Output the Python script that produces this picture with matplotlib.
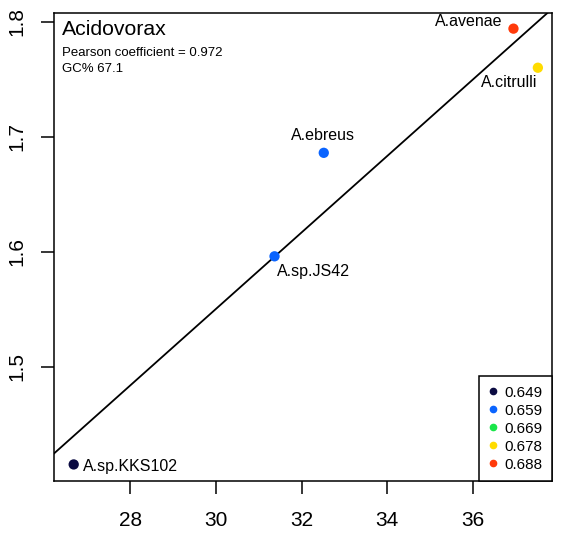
import numpy as np
import matplotlib
matplotlib.use("Agg")
import matplotlib.pyplot as plt
from matplotlib.lines import Line2D

plt.rcParams['font.family'] = ['Liberation Sans', 'DejaVu Sans']

# species data: GC3-like x, ratio y, colour class
names = ["A.sp.KKS102", "A.sp.JS42", "A.ebreus", "A.avenae", "A.citrulli"]
x = [26.68, 31.37, 32.52, 36.95, 37.52]
y = [1.415, 1.596, 1.686, 1.794, 1.760]
cls = [0, 1, 1, 4, 3]

leg_labels = ["0.649", "0.659", "0.669", "0.678", "0.688"]
leg_colors = ["#0b0b42", "#0a64ff", "#19e64a", "#ffdc00", "#ff3a0a"]

# label placement (ha, dx pt, dy pt)
lab_pos = {
    "A.sp.KKS102": ("left", 6.5, -1.5),
    "A.sp.JS42": ("left", 2.0, -11.0),
    "A.ebreus": ("center", -0.7, 12.5),
    "A.avenae": ("right", -8.0, 4.8),
    "A.citrulli": ("right", -0.5, -10.8),
}

fig = plt.figure(figsize=(5.67, 5.33), dpi=100)
ax = fig.add_axes([54/567, 1-481/533, (552-54)/567, (481-13)/533])

slope, icpt = np.polyfit(x, y, 1)
r = np.corrcoef(x, y)[0, 1]
ax.axline((0, icpt), slope=slope, color="black", lw=1.3, zorder=1)

ax.scatter(x, y, c=[leg_colors[c] for c in cls], s=55, zorder=3, linewidths=0)
for n, xi, yi in zip(names, x, y):
    ha, dx, dy = lab_pos[n]
    ax.annotate(n, (xi, yi), xytext=(dx, dy), textcoords="offset points",
                ha=ha, va="center", fontsize=11.5)

ax.set_xlim(26.22, 37.85)
ax.set_ylim(1.4006, 1.8076)
ax.set_xticks([28, 30, 32, 34, 36])
ax.set_yticks([1.5, 1.6, 1.7, 1.8])
ax.set_yticklabels(["1.5", "1.6", "1.7", "1.8"], rotation=90, va="center")
ax.tick_params(axis="both", length=9.5, width=1.1, labelsize=15, pad=12)
ax.tick_params(axis="y", pad=10.5)
for s in ax.spines.values():
    s.set_linewidth(1.1)

ax.text(0.016, 0.985, "Acidovorax", transform=ax.transAxes, fontsize=15.3, va="top", ha="left")
ax.text(0.016, 0.927, "Pearson coefficient = %.3f" % r, transform=ax.transAxes, fontsize=9.5, va="top")
ax.text(0.016, 0.894, "GC% 67.1", transform=ax.transAxes, fontsize=9.5, va="top")

handles = [Line2D([], [], marker="o", ls="none", color=c, markersize=4.5) for c in leg_colors]
leg = ax.legend(handles, leg_labels, loc="lower right", borderaxespad=0, fancybox=False,
                fontsize=11, handlelength=0.6, handletextpad=0.45, labelspacing=0.26,
                borderpad=0.62, framealpha=1)
leg.get_frame().set_edgecolor("black")
leg.get_frame().set_linewidth(1.1)

fig.savefig("out.png", dpi=100)
